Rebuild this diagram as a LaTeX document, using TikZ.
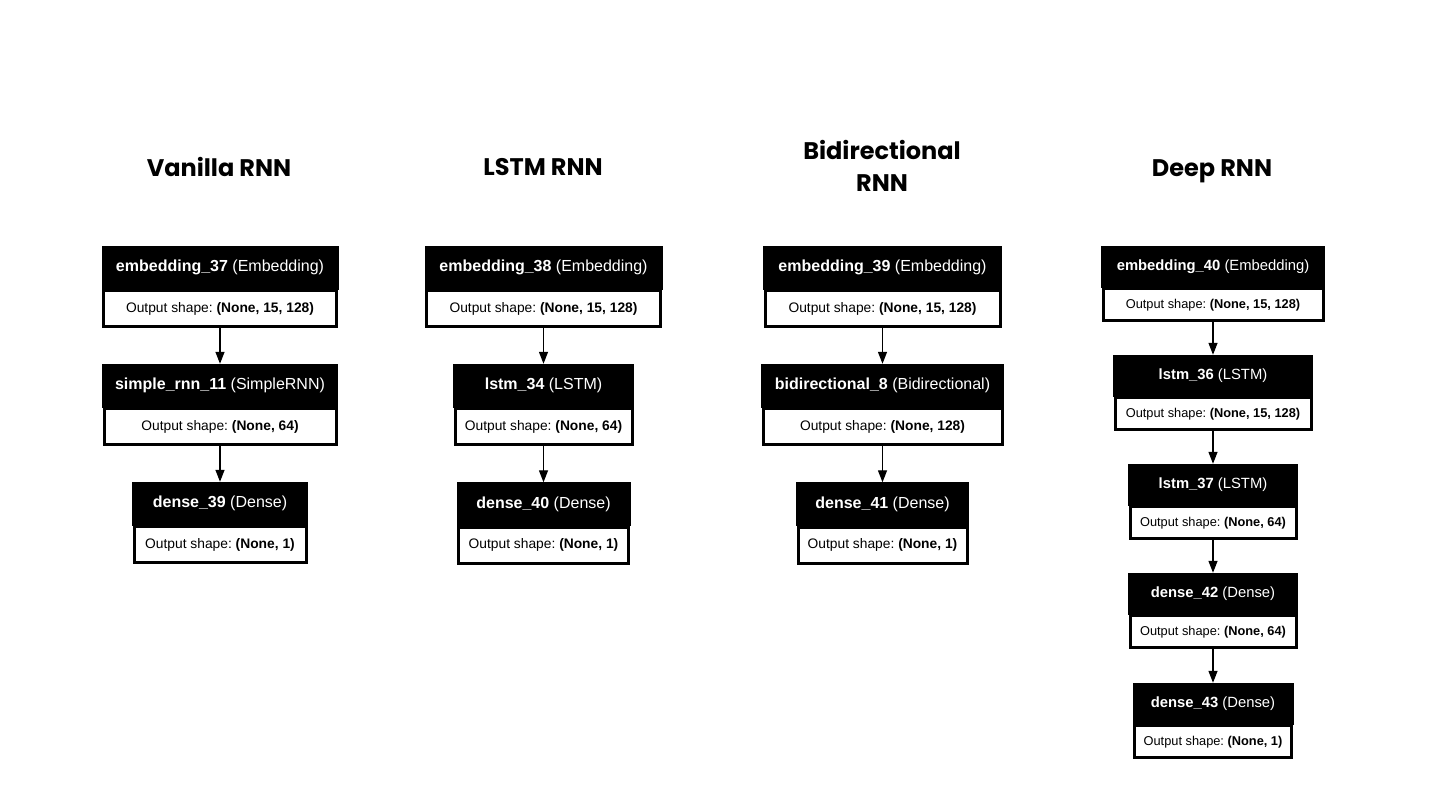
\documentclass[tikz,border=0pt]{standalone}
\usepackage{fontspec}
\setmainfont{Liberation Sans}
\newfontfamily\titlefont{Poppins}
\usetikzlibrary{positioning}
\usetikzlibrary{arrows.meta}

\tikzset{
  layerhead/.style={fill=black, draw=black, text=white, minimum height=43pt, inner sep=0pt,
    font=\fontsize{16}{19}\selectfont},
  layershape/.style={fill=white, draw=black, line width=3pt, minimum height=36pt, inner sep=0pt,
    font=\fontsize{13.8}{16}\selectfont},
  deephead/.style={layerhead, minimum height=41pt, font=\fontsize{14.8}{18}\selectfont},
  deepshape/.style={layershape, minimum height=32pt, font=\fontsize{12.8}{15}\selectfont},
  heading/.style={font=\titlefont\bfseries\fontsize{24}{32}\selectfont, align=center},
  flow/.style={-{Triangle[length=12pt,width=9pt]}, line width=1.3pt},
}
\frenchspacing

\begin{document}
\begin{tikzpicture}[x=1pt, y=-1pt]
    \fill[white] (0,0) rectangle (1440,810);
    \useasboundingbox (0,0) rectangle (1440,810);

    % titles
    \node[heading] (tvan) at (219,167) {Vanilla RNN};
    \node[heading] (tlstm) at (543,167) {LSTM RNN};
    \node[heading] (tbidir) at (882,166) {Bidirectional\\RNN};
    \node[heading] (tdeep) at (1212,171) {Deep RNN};

    % vanilla
    \node[layerhead, minimum width=236pt] (emb37) at (220,267.5) {\textbf{embedding\_37} (Embedding)};
    \node[layershape, minimum width=233pt, below=0pt of emb37] (emb37s) {Output shape: \textbf{(None, 15, 128)}};
    \node[layerhead, minimum width=235pt] (rnn11) at (220,385.5) {\textbf{simple\_rnn\_11} (SimpleRNN)};
    \node[layershape, minimum width=232pt, below=0pt of rnn11] (rnn11s) {Output shape: \textbf{(None, 64)}};
    \node[layerhead, minimum width=175pt] (dense39) at (220,503.5) {\textbf{dense\_39} (Dense)};
    \node[layershape, minimum width=172pt, below=0pt of dense39] (dense39s) {Output shape: \textbf{(None, 1)}};
    \draw[flow] (emb37s.south) -- (rnn11.north);
    \draw[flow] (rnn11s.south) -- (dense39.north);

    % lstm
    \node[layerhead, minimum width=237pt] (emb38) at (543.5,267.5) {\textbf{embedding\_38} (Embedding)};
    \node[layershape, minimum width=234pt, below=0pt of emb38] (emb38s) {Output shape: \textbf{(None, 15, 128)}};
    \node[layerhead, minimum width=180pt] (lstm34) at (543.5,385.5) {\textbf{lstm\_34} (LSTM)};
    \node[layershape, minimum width=177pt, below=0pt of lstm34] (lstm34s) {Output shape: \textbf{(None, 64)}};
    \node[layerhead, minimum width=173pt] (dense40) at (543.5,504) {\textbf{dense\_40} (Dense)};
    \node[layershape, minimum width=170pt, below=0pt of dense40] (dense40s) {Output shape: \textbf{(None, 1)}};
    \draw[flow] (emb38s.south) -- (lstm34.north);
    \draw[flow] (lstm34s.south) -- (dense40.north);

    % bidirectional
    \node[layerhead, minimum width=238pt] (emb39) at (882.5,267.5) {\textbf{embedding\_39} (Embedding)};
    \node[layershape, minimum width=235pt, below=0pt of emb39] (emb39s) {Output shape: \textbf{(None, 15, 128)}};
    \node[layerhead, minimum width=242pt] (bidir8) at (882.5,385.5) {\textbf{bidirectional\_8} (Bidirectional)};
    \node[layershape, minimum width=239pt, below=0pt of bidir8] (bidir8s) {Output shape: \textbf{(None, 128)}};
    \node[layerhead, minimum width=172pt] (dense41) at (882.5,504) {\textbf{dense\_41} (Dense)};
    \node[layershape, minimum width=169pt, below=0pt of dense41] (dense41s) {Output shape: \textbf{(None, 1)}};
    \draw[flow] (emb39s.south) -- (bidir8.north);
    \draw[flow] (bidir8s.south) -- (dense41.north);

    % deep
    \node[deephead, minimum width=223pt] (emb40) at (1213,266.5) {\textbf{embedding\_40} (Embedding)};
    \node[deepshape, minimum width=220pt, below=0pt of emb40] (emb40s) {Output shape: \textbf{(None, 15, 128)}};
    \node[deephead, minimum width=199pt] (lstm36) at (1213,375.5) {\textbf{lstm\_36} (LSTM)};
    \node[deepshape, minimum width=196pt, below=0pt of lstm36] (lstm36s) {Output shape: \textbf{(None, 15, 128)}};
    \node[deephead, minimum width=169pt] (lstm37) at (1213,484.5) {\textbf{lstm\_37} (LSTM)};
    \node[deepshape, minimum width=166pt, below=0pt of lstm37] (lstm37s) {Output shape: \textbf{(None, 64)}};
    \node[deephead, minimum width=169pt] (dense42) at (1213,593.5) {\textbf{dense\_42} (Dense)};
    \node[deepshape, minimum width=166pt, below=0pt of dense42] (dense42s) {Output shape: \textbf{(None, 64)}};
    \node[deephead, minimum width=160pt] (dense43) at (1213,703.5) {\textbf{dense\_43} (Dense)};
    \node[deepshape, minimum width=157pt, below=0pt of dense43] (dense43s) {Output shape: \textbf{(None, 1)}};
    \draw[flow] (emb40s.south) -- (lstm36.north);
    \draw[flow] (lstm36s.south) -- (lstm37.north);
    \draw[flow] (lstm37s.south) -- (dense42.north);
    \draw[flow] (dense42s.south) -- (dense43.north);
\end{tikzpicture}
\end{document}
